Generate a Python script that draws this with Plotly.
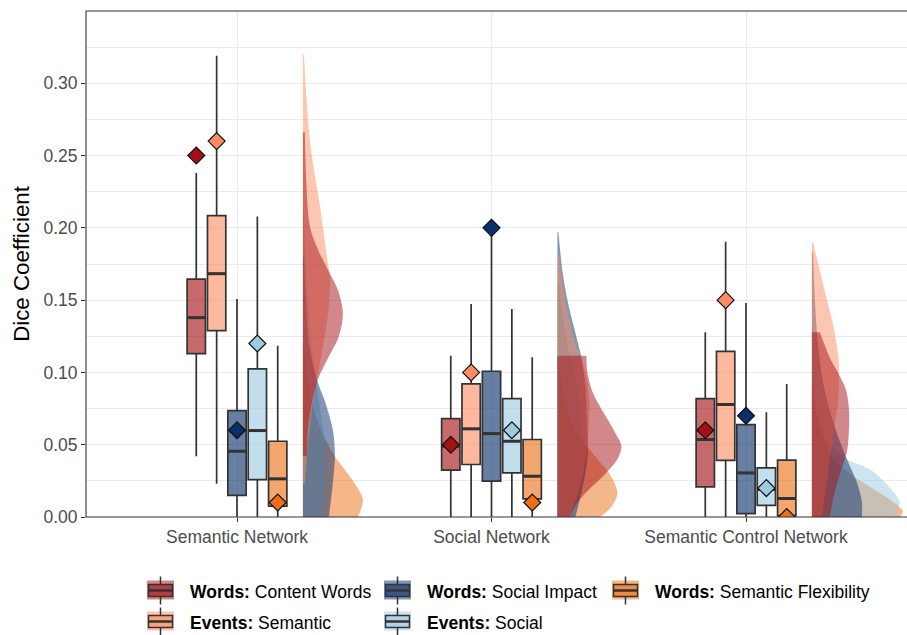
import plotly.graph_objects as go

# ---------------- data ----------------
groups = ["Semantic Network", "Social Network", "Semantic Control Network"]
series_kind = ["Words", "Events", "Words", "Events", "Words"]
series_name = ["Content Words", "Semantic", "Social Impact", "Social", "Semantic Flexibility"]
series_color = ["#a50f15", "#fc8d62", "#08306b", "#9ecae1", "#ec7014"]

y_ticks = [0.0, 0.05, 0.10, 0.15, 0.20, 0.25, 0.30]
y_minor = [0.025, 0.075, 0.125, 0.175, 0.225, 0.275, 0.325]

# box statistics, per series, across the three groups
box_low = [[0.042, 0.0, 0.0], [0.023, 0.0, 0.0], [0.0, 0.0, 0.0], [0.0, 0.0, 0.0], [0.0, 0.0, 0.0]]
box_q1 = [[0.113, 0.0324, 0.0209], [0.1289, 0.0363, 0.0391], [0.0149, 0.0248, 0.0024],
          [0.0259, 0.0305, 0.008], [0.0075, 0.0126, 0.001]]
box_med = [[0.1379, 0.049, 0.0536], [0.1683, 0.061, 0.0778], [0.0455, 0.0577, 0.0305],
           [0.0598, 0.0524, 0.019], [0.0264, 0.0282, 0.0128]]
box_q3 = [[0.1646, 0.0681, 0.0819], [0.2084, 0.0921, 0.1146], [0.0736, 0.1008, 0.0639],
          [0.1024, 0.0819, 0.034], [0.0524, 0.0536, 0.0393]]
box_high = [[0.238, 0.1116, 0.1278], [0.319, 0.1474, 0.1904], [0.1508, 0.197, 0.148],
            [0.2079, 0.1439, 0.0725], [0.1185, 0.1105, 0.092]]
mean_val = [[0.25, 0.05, 0.06], [0.26, 0.10, 0.15], [0.06, 0.20, 0.07],
            [0.12, 0.06, 0.02], [0.01, 0.01, 0.0]]

# half-violin density profiles (value, relative width) per series per group
violin_v = [
    [[0.042, 0.06, 0.079, 0.097, 0.111, 0.125, 0.141, 0.157, 0.171, 0.185, 0.201, 0.238, 0.266],
     [0.0, 0.01, 0.02, 0.03, 0.04, 0.049, 0.058, 0.07, 0.085, 0.1, 0.1116],
     [0.0, 0.015, 0.03, 0.045, 0.06, 0.075, 0.088, 0.1, 0.11, 0.1278]],
    [[0.023, 0.05, 0.08, 0.11, 0.14, 0.165, 0.18, 0.215, 0.26, 0.32],
     [0.0, 0.02, 0.04, 0.06, 0.08, 0.1, 0.12, 0.15, 0.18],
     [0.0, 0.02, 0.04, 0.06, 0.08, 0.095, 0.107, 0.13, 0.153, 0.19]],
    [[0.0, 0.024, 0.042, 0.06, 0.08, 0.095, 0.12, 0.15, 0.18],
     [0.0, 0.02, 0.04, 0.06, 0.09, 0.11, 0.13, 0.15, 0.17, 0.197],
     [0.0, 0.01, 0.024, 0.04, 0.06, 0.09, 0.12, 0.15, 0.183]],
    [[0.0, 0.02, 0.05, 0.08, 0.11, 0.15, 0.21],
     [0.0, 0.03, 0.06, 0.09, 0.12, 0.144, 0.16],
     [0.0, 0.01, 0.014, 0.024, 0.033, 0.04, 0.05, 0.06, 0.0725]],
    [[0.0, 0.012, 0.025, 0.042, 0.06, 0.08, 0.1, 0.1185],
     [0.0, 0.008, 0.017, 0.03, 0.04, 0.06, 0.08, 0.1105],
     [0.0, 0.004, 0.01, 0.02, 0.03, 0.04, 0.055, 0.07, 0.092]],
]
violin_w = [
    [[4, 5, 9, 16, 26, 36, 40, 35, 25, 15, 7, 3, 2],
     [12, 20, 33, 48, 60, 64, 58, 48, 36, 30, 29],
     [18, 22, 28, 35, 37, 37, 34, 26, 18, 8]],
    [[2, 5, 10, 18, 25, 27, 24, 17, 7, 1],
     [12, 22, 28, 31, 32, 28, 18, 8, 2],
     [10, 14, 18, 22, 26, 27, 27, 22, 14, 1]],
    [[26, 30, 32, 30, 22, 14, 6, 3, 1],
     [18, 25, 30, 30, 28, 24, 17, 10, 5, 1],
     [50, 50, 45, 35, 24, 12, 6, 3, 1]],
    [[18, 22, 22, 16, 10, 5, 1],
     [16, 24, 25, 20, 10, 4, 2],
     [82, 88, 85, 73, 58, 35, 18, 9, 4]],
    [[55, 60, 50, 32, 18, 9, 4, 1],
     [43, 55, 60, 52, 40, 18, 7, 1],
     [88, 91, 82, 60, 38, 22, 12, 5, 1]],
]

# ---------------- styling constants ----------------
FONT = "Liberation Sans, Arial, Helvetica, sans-serif"
W, H = 907, 635
ML, MR, MT, MB = 86, 0, 11, 118
PW, PH = W - ML - MR, H - MT - MB
X_RANGE = [-0.5933, 2.6326]
UNIT_PX = PW / (X_RANGE[1] - X_RANGE[0])
DODGE = 0.08
BOX_W = 0.072
VIOLIN_OFF = 0.259
VIOLIN_SCALE = 1.0 / UNIT_PX
BOX_ALPHA = 0.62
VIOLIN_ALPHA = 0.5
DARK = "#333333"


def rgba(hexc, a):
    h = hexc.lstrip("#")
    r, g, b = int(h[0:2], 16), int(h[2:4], 16), int(h[4:6], 16)
    return f"rgba({r},{g},{b},{a})"


fig = go.Figure()

# half violins (drawn last series first so Content Words ends on top)
for s in reversed(range(5)):
    for g in range(3):
        vv = violin_v[s][g]
        ww = violin_w[s][g]
        base = g + VIOLIN_OFF
        # straight baseline (left edge of the half violin)
        fig.add_trace(go.Scatter(
            x=[base] * len(vv), y=vv, mode="lines", line=dict(width=0),
            hoverinfo="skip", showlegend=False))
        # smooth density profile, filled back to the baseline
        fig.add_trace(go.Scatter(
            x=[base + w * VIOLIN_SCALE for w in ww], y=vv, mode="lines", fill="tonextx",
            fillcolor=rgba(series_color[s], VIOLIN_ALPHA),
            line=dict(width=0, shape="spline", smoothing=0.9),
            hoverinfo="skip", showlegend=False))

# boxes
for s in range(5):
    off = (s - 2) * DODGE
    xs = [g + off for g in range(3)]
    fig.add_trace(go.Box(
        x=xs, q1=box_q1[s], median=box_med[s], q3=box_q3[s],
        lowerfence=box_low[s], upperfence=box_high[s],
        width=BOX_W, whiskerwidth=0, boxpoints=False,
        fillcolor=rgba(series_color[s], BOX_ALPHA),
        line=dict(color=DARK, width=1.7),
        name=series_name[s], showlegend=False))
    # thicker median line
    mx, my = [], []
    for g in range(3):
        mx += [xs[g] - BOX_W / 2, xs[g] + BOX_W / 2, None]
        my += [box_med[s][g], box_med[s][g], None]
    fig.add_trace(go.Scatter(x=mx, y=my, mode="lines",
                             line=dict(color=DARK, width=3),
                             hoverinfo="skip", showlegend=False))

# mean diamonds
for s in range(5):
    off = (s - 2) * DODGE
    fig.add_trace(go.Scatter(
        x=[g + off for g in range(3)], y=mean_val[s], mode="markers",
        marker=dict(symbol="diamond", size=13, color=series_color[s],
                    line=dict(color="#111111", width=1.2)),
        showlegend=False))

# panel border
shapes = [dict(type="rect", xref="paper", yref="paper", x0=0, x1=1.01, y0=0, y1=1,
               line=dict(color=DARK, width=1.1), fillcolor="rgba(0,0,0,0)", layer="above")]
annotations = []


def px2x(px):
    return (px - ML) / PW


def px2y(py):
    return (MT + PH - py) / PH


# manual legend (ggplot-style, 3 columns x 2 rows, column-major)
key_left = [147, 384, 612]
row_cy = [590.5, 621.5]
for s in range(5):
    col, row = s // 2, s % 2
    kl, cy = key_left[col], row_cy[row]
    c = series_color[s]
    shapes.append(dict(type="rect", xref="paper", yref="paper",
                       x0=px2x(kl), x1=px2x(kl + 27), y0=px2y(cy - 10), y1=px2y(cy + 9),
                       fillcolor=rgba(c, VIOLIN_ALPHA), line=dict(width=0), layer="above"))
    for (a, b) in [(cy - 14, cy - 6), (cy + 6, cy + 14)]:
        shapes.append(dict(type="line", xref="paper", yref="paper",
                           x0=px2x(kl + 13.5), x1=px2x(kl + 13.5), y0=px2y(a), y1=px2y(b),
                           line=dict(color=DARK, width=1.5), layer="above"))
    shapes.append(dict(type="rect", xref="paper", yref="paper",
                       x0=px2x(kl + 1.5), x1=px2x(kl + 25.5), y0=px2y(cy - 6), y1=px2y(cy + 6),
                       fillcolor=rgba(c, BOX_ALPHA), line=dict(color=DARK, width=1.5), layer="above"))
    shapes.append(dict(type="line", xref="paper", yref="paper",
                       x0=px2x(kl + 1.5), x1=px2x(kl + 25.5), y0=px2y(cy), y1=px2y(cy),
                       line=dict(color=DARK, width=2.5), layer="above"))
    annotations.append(dict(xref="paper", yref="paper", x=px2x(kl + 41), y=px2y(cy + 1),
                            xanchor="left", yanchor="middle", showarrow=False,
                            text=f"<b>{series_kind[s]}:</b> {series_name[s]}",
                            font=dict(family=FONT, size=17.5, color="#000000")))

fig.update_layout(
    width=W, height=H, autosize=False,
    margin=dict(l=ML, r=MR, t=MT, b=MB),
    paper_bgcolor="white", plot_bgcolor="white",
    font=dict(family=FONT),
    showlegend=False,
    boxmode="overlay",
    shapes=shapes, annotations=annotations,
    xaxis=dict(range=X_RANGE, tickmode="array", tickvals=[0, 1, 2], ticktext=groups,
               showgrid=True, gridcolor="#ebebeb", gridwidth=1.1, zeroline=False,
               ticks="outside", ticklen=4, tickcolor=DARK, tickwidth=1,
               tickfont=dict(family=FONT, size=17.5, color="#4d4d4d"),
               showline=False, fixedrange=True),
    yaxis=dict(range=[0, 0.35], tickmode="array", tickvals=y_ticks,
               ticktext=[f"{v:.2f}" for v in y_ticks],
               showgrid=True, gridcolor="#ebebeb", gridwidth=1.1, zeroline=False,
               minor=dict(tickmode="array", tickvals=y_minor, showgrid=True,
                          gridcolor="#ebebeb", gridwidth=0.6, ticks=""),
               ticks="outside", ticklen=4, tickcolor=DARK, tickwidth=1,
               tickfont=dict(family=FONT, size=17.5, color="#4d4d4d"),
               title=dict(text="Dice Coefficient", standoff=7,
                          font=dict(family=FONT, size=22.3, color="#000000")),
               showline=False, fixedrange=True),
)

fig.write_html("out.html",
               config={"displayModeBar": False},
               post_script="document.body.style.margin='0';document.body.style.overflow='hidden';")
